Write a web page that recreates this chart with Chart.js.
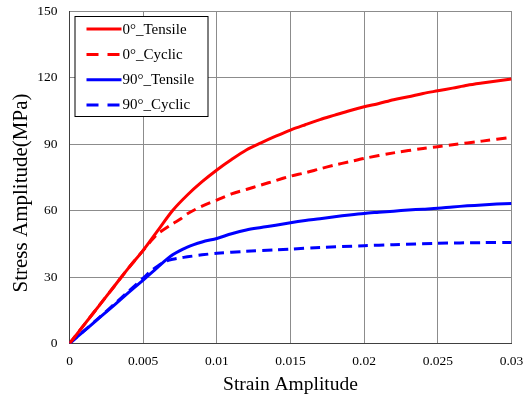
<!DOCTYPE html>
<html>
<head>
<meta charset="utf-8">
<script src="https://cdn.jsdelivr.net/npm/chart.js@4"></script>
<style>
html,body{margin:0;padding:0;background:#fff;}
#wrap{width:531px;height:396px;position:relative;}
</style>
</head>
<body>
<div id="wrap"><canvas id="c" width="531" height="396"></canvas></div>
<script>
const seriesNames = ["0°_Tensile", "0°_Cyclic", "90°_Tensile", "90°_Cyclic"];
const xTicks = [0, 0.005, 0.01, 0.015, 0.02, 0.025, 0.03];
const yTicks = [0, 30, 60, 90, 120, 150];
const xTitle = "Strain Amplitude";
const yTitle = "Stress Amplitude(MPa)";

const strain0T = [0,0.001,0.002,0.003,0.004,0.005,0.006,0.007,0.008,0.009,0.010,0.011,0.012,0.013,0.014,0.015,0.016,0.017,0.018,0.019,0.020,0.021,0.022,0.023,0.024,0.025,0.026,0.027,0.028,0.029,0.030];
const stress0T = [0,8.5,17,25.5,34,42,51,60,67,73,78.3,83,87.3,90.5,93.5,96.3,98.7,101,103,105,106.8,108.3,110,111.3,112.8,114,115.2,116.5,117.5,118.4,119.3];

const strain0C = [0,0.001,0.002,0.003,0.004,0.005,0.0055,0.006,0.007,0.0075,0.008,0.009,0.010,0.011,0.012,0.013,0.014,0.015,0.016,0.017,0.018,0.019,0.020,0.022,0.024,0.025,0.026,0.028,0.030];
const stress0C = [0,8.5,17,25.5,34,42,46,49.5,54,56,58.5,62,64.7,67.5,69.5,71.5,73.5,75.5,77,78.8,80.5,82,83.5,86,88,88.8,89.7,91.3,93];

const strain90T = [0,0.001,0.002,0.003,0.004,0.005,0.006,0.007,0.008,0.009,0.010,0.011,0.012,0.013,0.014,0.015,0.016,0.017,0.018,0.019,0.020,0.021,0.022,0.023,0.024,0.025,0.026,0.027,0.028,0.029,0.030];
const stress90T = [0,5.7,11.4,17.1,22.9,28.6,34.5,40,43.5,45.8,47.4,49.5,51.2,52.3,53.3,54.5,55.5,56.3,57.2,58,58.7,59.2,59.7,60.2,60.6,61,61.6,62.1,62.5,62.9,63.2];

const strain90C = [0,0.001,0.002,0.003,0.004,0.005,0.0055,0.006,0.0065,0.007,0.0075,0.008,0.009,0.010,0.012,0.014,0.015,0.017,0.020,0.022,0.025,0.028,0.030];
const stress90C = [0,5.8,11.6,17.5,23.5,29.5,32.5,35,37,38,38.6,39.1,40,40.7,41.6,42.2,42.6,43.3,44.1,44.6,45.2,45.5,45.6];

function pts(xs, ys){ return xs.map((x,i)=>({x:x, y:ys[i]})); }

const SERIF = "'Liberation Serif', 'Times New Roman', serif";

const legendBox = {
  id: 'legendBox',
  afterDraw(chart){
    const ctx = chart.ctx, a = chart.chartArea;
    ctx.save();
    // y-axis title
    ctx.translate(21, 193);
    ctx.rotate(-Math.PI / 2);
    ctx.fillStyle = '#000';
    ctx.font = '21px ' + SERIF;
    ctx.textAlign = 'center';
    ctx.textBaseline = 'middle';
    ctx.fillText(yTitle, 0, 0);
    ctx.restore();

    const bx = a.left + 5.5, by = a.top + 5.5, bw = 133, bh = 100;
    ctx.save();
    ctx.fillStyle = '#fff';
    ctx.fillRect(bx, by, bw, bh);
    ctx.strokeStyle = '#000';
    ctx.lineWidth = 1;
    ctx.strokeRect(bx, by, bw, bh);
    chart.data.datasets.forEach((ds, i) => {
      const cy = by + 12.6 + i * 25.3;
      const dashed = ds.borderDash && ds.borderDash.length;
      ctx.beginPath();
      ctx.strokeStyle = ds.borderColor;
      ctx.lineWidth = 3;
      ctx.setLineDash(dashed ? [12, 9, 12, 100] : []);
      ctx.moveTo(bx + 11.5, cy);
      ctx.lineTo(bx + 46.5, cy);
      ctx.stroke();
      ctx.setLineDash([]);
      ctx.fillStyle = '#000';
      ctx.font = '15px ' + SERIF;
      ctx.textAlign = 'left';
      ctx.textBaseline = 'middle';
      ctx.fillText(ds.label, bx + 47.5, cy + 0.5);
    });
    ctx.restore();
  }
};

const fmt = v => String(parseFloat(Number(v).toFixed(4)));

new Chart(document.getElementById('c'), {
  type: 'line',
  data: {
    datasets: [
      {label: seriesNames[0], data: pts(strain0T, stress0T), borderColor: '#ff0000', borderWidth: 3, borderDash: []},
      {label: seriesNames[1], data: pts(strain0C, stress0C), borderColor: '#ff0000', borderWidth: 3, borderDash: [10, 6]},
      {label: seriesNames[2], data: pts(strain90T, stress90T), borderColor: '#0000ff', borderWidth: 3, borderDash: []},
      {label: seriesNames[3], data: pts(strain90C, stress90C), borderColor: '#0000ff', borderWidth: 3, borderDash: [10, 6]}
    ]
  },
  options: {
    responsive: false,
    animation: false,
    devicePixelRatio: 1,
    elements: { point: { radius: 0 }, line: { tension: 0.3, fill: false } },
    layout: { padding: { left: 0, right: 19.5, top: 11, bottom: 0 } },
    plugins: { legend: { display: false }, tooltip: { enabled: false } },
    scales: {
      x: {
        type: 'linear', min: 0, max: 0.03,
        afterBuildTicks: s => { s.ticks = xTicks.map(v => ({value: v})); },
        afterFit: s => { s.height = 52.5; s.paddingLeft = 0; s.paddingRight = 0; },
        ticks: { callback: v => fmt(v), font: { family: SERIF, size: 13.5 }, color: '#000', padding: 10, maxRotation: 0, autoSkip: false },
        grid: { color: '#8c8c8c', lineWidth: 1, drawTicks: false },
        border: { color: '#404040', width: 1 },
        title: { display: true, text: xTitle, font: { family: SERIF, size: 19.5, lineHeight: 1 }, color: '#000', padding: { top: 0, bottom: 1 } }
      },
      y: {
        type: 'linear', min: 0, max: 150,
        afterBuildTicks: s => { s.ticks = yTicks.map(v => ({value: v})); },
        afterFit: s => { s.width = 69.5; s.paddingTop = 0; s.paddingBottom = 0; },
        ticks: { callback: v => fmt(v), font: { family: SERIF, size: 13.5 }, color: '#000', padding: 12 },
        grid: { color: '#8c8c8c', lineWidth: 1, drawTicks: false },
        border: { color: '#404040', width: 1 },
        title: { display: false }
      }
    }
  },
  plugins: [legendBox]
});
</script>
</body>
</html>
